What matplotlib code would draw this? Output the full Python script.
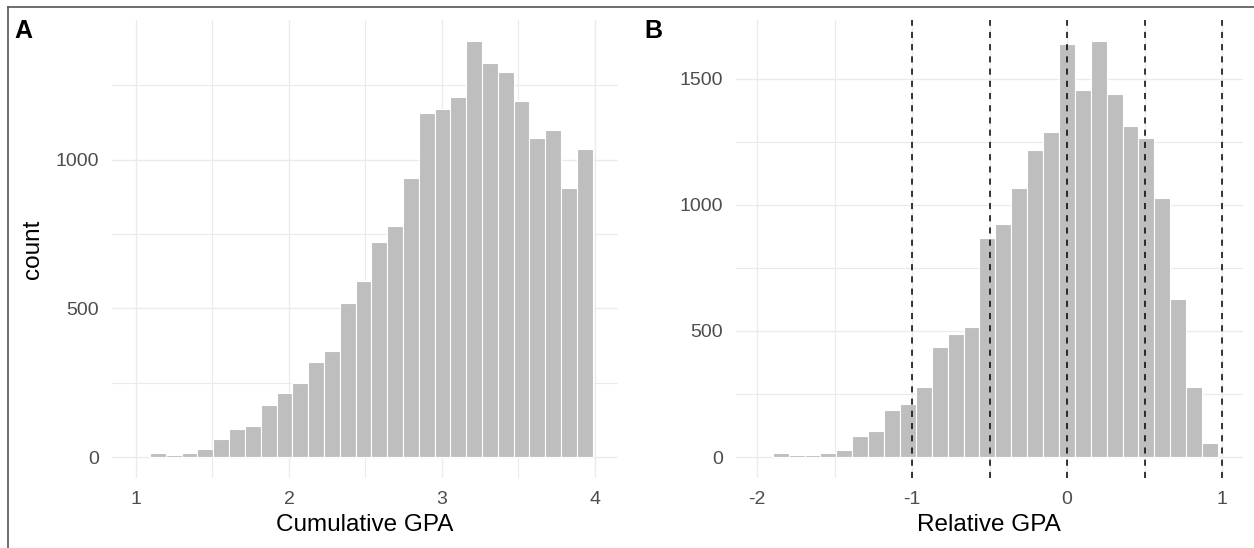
import numpy as np
import matplotlib
matplotlib.use('Agg')
import matplotlib.pyplot as plt
from matplotlib.lines import Line2D

plt.rcParams['font.family'] = ['Liberation Sans', 'DejaVu Sans']
plt.rcParams['axes.unicode_minus'] = False

# Panel A: cumulative GPA histogram (counts per bin, left to right)
gpa_counts = [13, 7, 13, 26, 60, 94, 106, 174, 215, 249, 319, 358, 520, 594,
              722, 779, 939, 1158, 1170, 1210, 1400, 1325, 1296, 1198, 1072,
              1101, 905, 1037]
gpa_start, gpa_width = 1.092, 0.1033

# Panel B: relative GPA histogram
rel_counts = [15, 7, 7, 15, 28, 82, 104, 185, 211, 279, 435, 489, 516, 870,
              924, 1065, 1215, 1290, 1637, 1453, 1650, 1440, 1311, 1263, 1025,
              625, 279, 55]
rel_start, rel_width = -1.899, 0.1026
rel_cutoffs = [-1, -0.5, 0, 0.5, 1]

W, H = 1254, 548
fig = plt.figure(figsize=(W / 100, H / 100), dpi=100)
fig.patch.set_facecolor('white')

grid_col = '#EBEBEB'
bar_col = '#BEBEBE'
tick_col = '#4D4D4D'


def style_axes(ax, xmaj, xmin, ymaj, ymin):
    ax.set_xticks(xmaj)
    ax.set_xticks(xmin, minor=True)
    ax.set_yticks(ymaj)
    ax.set_yticks(ymin, minor=True)
    ax.grid(True, which='major', color=grid_col, lw=1.0, zorder=0)
    ax.grid(True, which='minor', color=grid_col, lw=0.8, zorder=0)
    ax.set_axisbelow(True)
    for s in ax.spines.values():
        s.set_visible(False)
    ax.tick_params(which='both', length=0, labelsize=14, labelcolor=tick_col,
                   pad=9)


def hist_panel(rect, counts, start, width, xlim, ylim):
    ax = fig.add_axes(rect)
    x = start + width * (np.arange(len(counts)) + 0.5)
    ax.bar(x, counts, width=width, color=bar_col, edgecolor='white',
           linewidth=0.8, zorder=2)
    ax.set_xlim(*xlim)
    ax.set_ylim(*ylim)
    return ax


bottom = 70 / H
height = 458 / H

# A
axA = hist_panel([111.5 / W, bottom, 506.3 / W, height], gpa_counts,
                 gpa_start, gpa_width, (0.84, 4.149), (-70, 1470))
style_axes(axA, [1, 2, 3, 4], [1.5, 2.5, 3.5], [0, 500, 1000],
           [250, 750, 1250])
axA.set_xlabel('Cumulative GPA', fontsize=17.5, labelpad=5)
axA.set_ylabel('count', fontsize=17.5, labelpad=8)

# B
axB = hist_panel([735.5 / W, bottom, 507.3 / W, height], rel_counts,
                 rel_start, rel_width, (-2.139, 1.134), (-82.5, 1732))
style_axes(axB, [-2, -1, 0, 1], [-1.5, -0.5, 0.5], [0, 500, 1000, 1500],
           [250, 750, 1250])
for c in rel_cutoffs:
    axB.axvline(c, color='black', lw=1.1, linestyle=(0, (4, 4)), zorder=3)
axB.set_xlabel('Relative GPA', fontsize=17.5, labelpad=5)

# panel tags
fig.text(14 / W, 1 - 19 / H, 'A', fontsize=18, fontweight='bold',
         ha='left', va='top')
fig.text(644 / W, 1 - 19 / H, 'B', fontsize=18, fontweight='bold',
         ha='left', va='top')

# frame (left and top edges visible)
fig.add_artist(Line2D([8 / W, 8 / W], [0, 1 - 7 / H], color='#555555',
                      lw=1.2, transform=fig.transFigure))
fig.add_artist(Line2D([8 / W, 1], [1 - 7 / H, 1 - 7 / H], color='#555555',
                      lw=1.2, transform=fig.transFigure))

fig.savefig('out.png', dpi=100)
